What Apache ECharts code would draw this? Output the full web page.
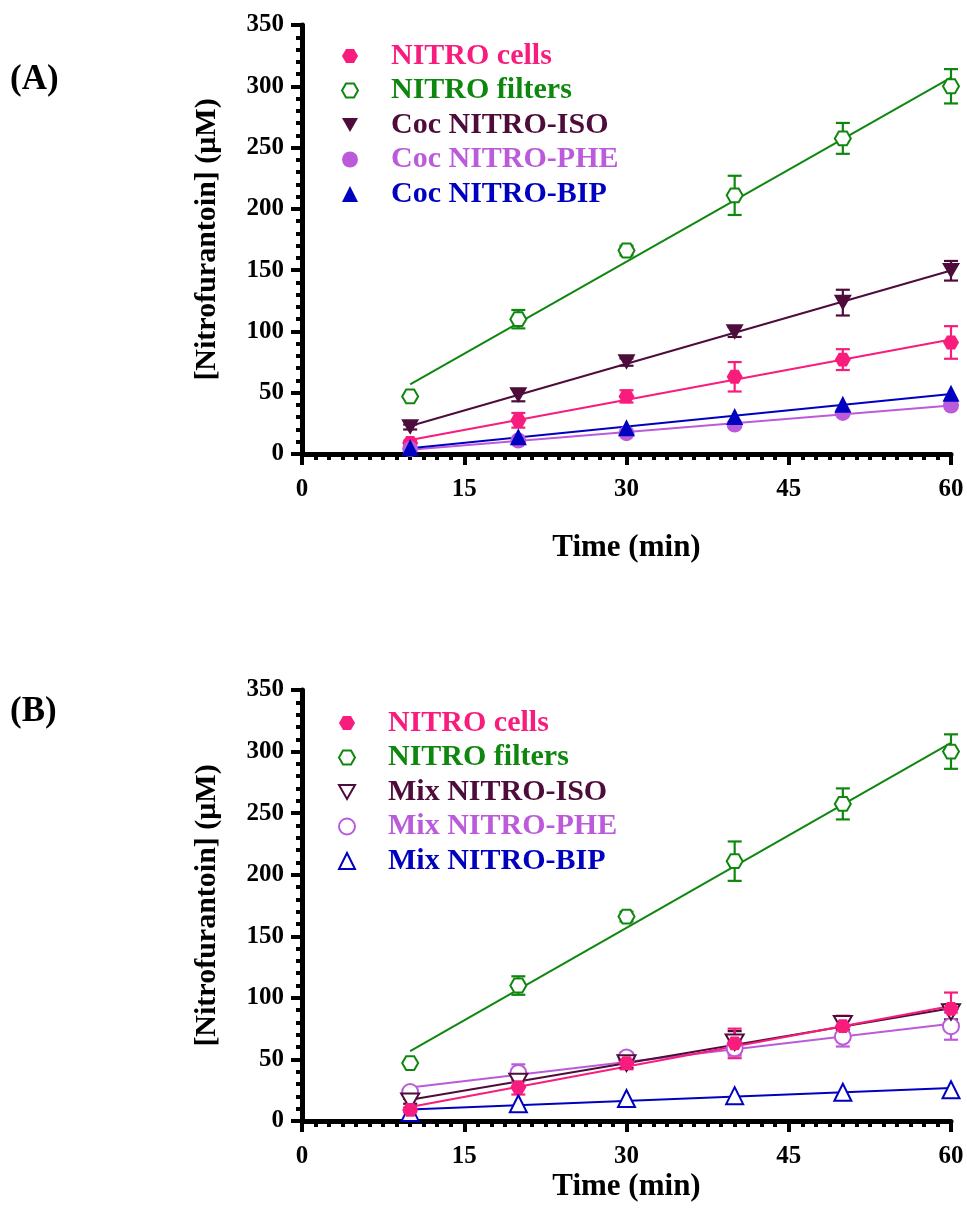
<!DOCTYPE html>
<html>
<head>
<meta charset="utf-8">
<script src="https://cdn.jsdelivr.net/npm/echarts@6/dist/echarts.min.js"></script>
<style>html,body{margin:0;padding:0;background:#fff}#c{width:967px;height:1218px}</style>
</head>
<body>
<div id="c"></div>
<script>
// ---------- data ----------
const times = [10, 20, 30, 40, 50, 60];
const xTicks = [0, 15, 30, 45, 60];
const yTicks = [0, 50, 100, 150, 200, 250, 300, 350];

const cellsY   = [9, 27.5, 47, 63, 77, 91];
const cellsE   = [2, 6, 5, 12, 8.5, 13.3];
const filtersY = [47, 110, 166, 211, 257.5, 300];
const filtersE = [2, 7.5, 4, 16, 12.6, 14];

const cocIsoY = [22, 48, 75, 99.5, 123.5, 149.5];
const cocIsoE = [2, 5, 3, 4, 10.5, 8];
const cocPheY = [4, 11, 17, 24, 33.5, 39.5];
const cocPheE = [0, 0, 0, 0, 0, 0];
const cocBipY = [5, 14, 21.5, 30.5, 40.5, 49.5];
const cocBipE = [0, 0, 0, 0, 0, 0];

const mixIsoY = [16, 32, 47, 64, 79, 88.5];
const mixIsoE = [2, 4, 4, 9, 5, 6];
const mixPheY = [23.5, 39, 51.5, 59, 68.5, 77];
const mixPheE = [2, 7, 4, 6, 8, 11];
const mixBipY = [7, 14, 18.3, 20.6, 23.3, 25.4];
const mixBipE = [0, 0, 0, 0, 0, 0];

// ---------- style ----------
const PINK = '#F81C7C', GREEN = '#0F870F', ISO = '#4E0C3A', PHE = '#BB5BDB', BIP = '#0000C0';
const FONT = 'Liberation Serif';
const HEX = 'path://M-1,0 L-0.5,-0.866 L0.5,-0.866 L1,0 L0.5,0.866 L-0.5,0.866 Z';
const DOWN = 'path://M0,0 L2,0 L1,1.732 Z';

function fit(xs, ys) {
  const n = xs.length;
  const mx = xs.reduce((a, b) => a + b, 0) / n;
  const my = ys.reduce((a, b) => a + b, 0) / n;
  let sxy = 0, sxx = 0;
  for (let i = 0; i < n; i++) { sxy += (xs[i] - mx) * (ys[i] - my); sxx += (xs[i] - mx) ** 2; }
  const b = sxy / sxx, a = my - b * mx;
  const x0 = xs[0], x1 = xs[n - 1];
  return [[x0, a + b * x0], [x1, a + b * x1]];
}

function group(name, ys, es, color, symbol, size, open, gi) {
  const pts = times.map((t, i) => [t, ys[i]]);
  const errs = times.map((t, i) => [t, ys[i], es[i]]).filter(d => d[2] > 0);
  return [
    {
      type: 'line', name: name + ' fit', xAxisIndex: gi, yAxisIndex: gi,
      data: fit(times, ys), symbol: 'none', z: 2, silent: true,
      lineStyle: { color: color, width: 2 }
    },
    {
      type: 'custom', name: name + ' err', xAxisIndex: gi, yAxisIndex: gi, z: 3, silent: true,
      data: errs,
      renderItem: function (params, api) {
        const x = api.value(0), y = api.value(1), e = api.value(2);
        const t = api.coord([x, y + e]), b = api.coord([x, y - e]);
        const w = 7;
        const st = { stroke: color, lineWidth: 2.2 };
        return {
          type: 'group', children: [
            { type: 'line', shape: { x1: t[0], y1: t[1], x2: b[0], y2: b[1] }, style: st },
            { type: 'line', shape: { x1: t[0] - w, y1: t[1], x2: t[0] + w, y2: t[1] }, style: st },
            { type: 'line', shape: { x1: b[0] - w, y1: b[1], x2: b[0] + w, y2: b[1] }, style: st }
          ]
        };
      }
    },
    {
      type: 'scatter', name: name, xAxisIndex: gi, yAxisIndex: gi, z: 4,
      data: pts, symbol: symbol, symbolSize: size, symbolKeepAspect: true,
      itemStyle: open ? { color: '#fff', borderColor: color, borderWidth: 2, opacity: 1 }
                      : { color: color, borderWidth: 0, opacity: 1 }
    }
  ];
}

function xAxis(gi, nameGap) {
  return {
    type: 'value', gridIndex: gi, min: 0, max: 60, interval: 15,
    name: 'Time (min)', nameLocation: 'middle', nameGap: nameGap,
    nameTextStyle: { fontFamily: FONT, fontWeight: 'bold', fontSize: 31, color: '#000' },
    axisLine: { show: true, onZero: false, lineStyle: { color: '#000', width: 5 } },
    axisTick: { show: true, length: 11, lineStyle: { color: '#000', width: 4 } },
    minorTick: { show: true, splitNumber: 12, length: 6, lineStyle: { color: '#000', width: 4 } },
    splitLine: { show: false },
    axisLabel: { margin: 23, fontFamily: FONT, fontWeight: 'bold', fontSize: 25, color: '#000',
      formatter: v => (xTicks.indexOf(v) >= 0 ? String(v) : '') }
  };
}
function yAxis(gi) {
  return {
    type: 'value', gridIndex: gi, min: 0, max: 350, interval: 50,
    name: '[Nitrofurantoin] (μM)', nameLocation: 'middle', nameGap: 80, nameRotate: 90,
    nameTextStyle: { fontFamily: FONT, fontWeight: 'bold', fontSize: 30, color: '#000' },
    axisLine: { show: true, onZero: false, lineStyle: { color: '#000', width: 5 } },
    axisTick: { show: true, length: 11, lineStyle: { color: '#000', width: 4 } },
    minorTick: { show: true, splitNumber: 5, length: 6, lineStyle: { color: '#000', width: 4 } },
    splitLine: { show: false },
    axisLabel: { margin: 18, fontFamily: FONT, fontWeight: 'bold', fontSize: 25, color: '#000',
      formatter: v => (yTicks.indexOf(v) >= 0 ? String(v) : '') }
  };
}

function legend(top, left, items) {
  return {
    orient: 'vertical', top: top, left: left, itemWidth: 16, itemHeight: 16, itemGap: 4.5,
    selectedMode: false,
    textStyle: { fontFamily: FONT, fontWeight: 'bold', fontSize: 30, lineHeight: 30, padding: [0, 0, 0, 28] },
    data: items.map(it => {
      const d = { name: it[0], textStyle: { color: it[1] } };
      if (it[2]) d.icon = it[2];
      return d;
    })
  };
}

const series = [].concat(
  group('NITRO cells', cellsY, cellsE, PINK, HEX, 16, false, 0),
  group('NITRO filters', filtersY, filtersE, GREEN, HEX, 16, true, 0),
  group('Coc NITRO-ISO', cocIsoY, cocIsoE, ISO, DOWN, 18, false, 0),
  group('Coc NITRO-PHE', cocPheY, cocPheE, PHE, 'circle', 16, false, 0),
  group('Coc NITRO-BIP', cocBipY, cocBipE, BIP, 'triangle', 17, false, 0),

  group('Mix NITRO-BIP', mixBipY, mixBipE, BIP, 'triangle', 17, true, 1),
  group('Mix NITRO-PHE', mixPheY, mixPheE, PHE, 'circle', 16, true, 1),
  group('Mix NITRO-ISO', mixIsoY, mixIsoE, ISO, DOWN, 18, true, 1),
  group('NITRO filters', filtersY, filtersE, GREEN, HEX, 16, true, 1),
  group('NITRO cells', cellsY, cellsE, PINK, HEX, 16, false, 1)
);

const chart = echarts.init(document.getElementById('c'), null, { renderer: 'canvas' });
chart.setOption({
  animation: false,
  backgroundColor: '#fff',
  grid: [
    { left: 302, right: 16, top: 25, height: 429, containLabel: false },
    { left: 302, right: 16, top: 690, height: 431, containLabel: false }
  ],
  xAxis: [xAxis(0, 78), xAxis(1, 50)],
  yAxis: [yAxis(0), yAxis(1)],
  legend: [
    legend(36, 336, [['NITRO cells', PINK], ['NITRO filters', GREEN], ['Coc NITRO-ISO', ISO, DOWN], ['Coc NITRO-PHE', PHE], ['Coc NITRO-BIP', BIP]]),
    legend(703, 333, [['NITRO cells', PINK], ['NITRO filters', GREEN], ['Mix NITRO-ISO', ISO, DOWN], ['Mix NITRO-PHE', PHE], ['Mix NITRO-BIP', BIP]])
  ],
  graphic: [
    { type: 'text', left: 10, top: 62, style: { text: '(A)', fontFamily: FONT, fontWeight: 'bold', fontSize: 35, fill: '#000' } },
    { type: 'text', left: 10, top: 694, style: { text: '(B)', fontFamily: FONT, fontWeight: 'bold', fontSize: 35, fill: '#000' } }
  ],
  series: series
});
</script>
</body>
</html>
